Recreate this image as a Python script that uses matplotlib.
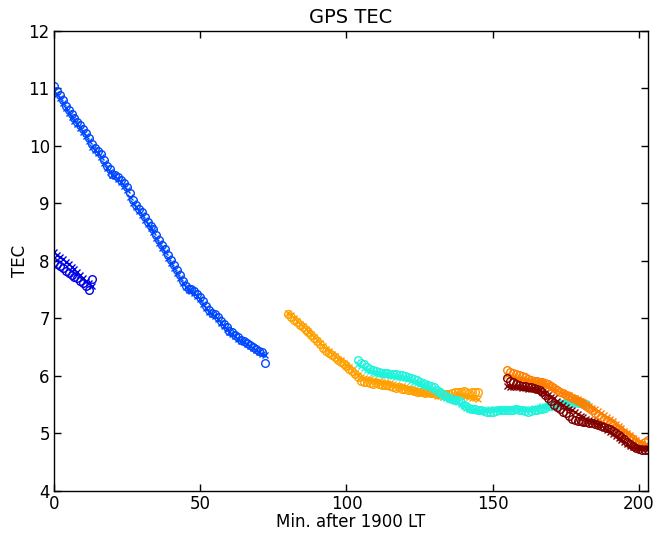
import numpy as np
import matplotlib
matplotlib.use("Agg")
import matplotlib.pyplot as plt

# ---- data (minutes after 1900 LT, TEC) ----
s1_x_o = list(range(0, 14))
s1_y_o = [7.98, 7.95, 7.92, 7.88, 7.82, 7.79, 7.76, 7.72, 7.70, 7.66, 7.61, 7.56, 7.49, 7.68]
s1_x_x = list(range(0, 14))
s1_y_x = [8.15, 8.11, 8.07, 8.03, 7.99, 7.95, 7.90, 7.86, 7.81, 7.76, 7.71, 7.66, 7.61, 7.56]

s2_x_o = list(range(0, 73))
s2_y_o = [11.04, 10.95, 10.88, 10.80, 10.70, 10.63, 10.56, 10.48, 10.42, 10.36,
          10.30, 10.22, 10.13, 10.04, 9.96, 9.91, 9.86, 9.76, 9.65, 9.60,
          9.52, 9.50, 9.46, 9.41, 9.36, 9.29, 9.18, 9.06, 8.97, 8.91,
          8.85, 8.76, 8.68, 8.60, 8.55, 8.46, 8.36, 8.28, 8.20, 8.10,
          8.02, 7.93, 7.85, 7.75, 7.66, 7.57, 7.52, 7.51, 7.48, 7.42,
          7.37, 7.30, 7.22, 7.15, 7.10, 7.08, 7.03, 6.96, 6.90, 6.85,
          6.79, 6.76, 6.72, 6.67, 6.63, 6.61, 6.58, 6.54, 6.51, 6.47,
          6.44, 6.41, 6.22]
s2_x_x = list(range(0, 73))
s2_y_x = [10.96, 10.90, 10.83, 10.75, 10.66, 10.58, 10.51, 10.44, 10.38, 10.32,
          10.25, 10.17, 10.08, 9.99, 9.93, 9.88, 9.80, 9.70, 9.62, 9.55,
          9.50, 9.47, 9.42, 9.37, 9.31, 9.23, 9.12, 9.01, 8.93, 8.87,
          8.80, 8.72, 8.64, 8.57, 8.50, 8.40, 8.31, 8.23, 8.15, 8.06,
          7.97, 7.88, 7.79, 7.70, 7.61, 7.54, 7.50, 7.48, 7.44, 7.39,
          7.33, 7.26, 7.18, 7.12, 7.08, 7.05, 6.99, 6.92, 6.87, 6.81,
          6.77, 6.73, 6.69, 6.65, 6.61, 6.59, 6.55, 6.52, 6.48, 6.45,
          6.42, 6.39, 6.37]

s3_x_o = list(range(80, 146))
s3_y_o = [7.08, 7.03, 6.98, 6.93, 6.88, 6.85, 6.80, 6.76, 6.71, 6.66,
          6.60, 6.55, 6.49, 6.44, 6.40, 6.36, 6.33, 6.28, 6.24, 6.20,
          6.17, 6.12, 6.08, 6.03, 5.98, 5.92, 5.89, 5.90, 5.88, 5.86,
          5.88, 5.86, 5.85, 5.84, 5.85, 5.82, 5.80, 5.79, 5.80, 5.78,
          5.77, 5.76, 5.76, 5.74, 5.73, 5.72, 5.73, 5.71, 5.72, 5.70,
          5.70, 5.69, 5.70, 5.68, 5.69, 5.68, 5.70, 5.72, 5.73, 5.72,
          5.74, 5.72, 5.71, 5.73, 5.72, 5.72]
s3_x_x = list(range(80, 146))
s3_y_x = [7.10, 7.06, 7.01, 6.96, 6.91, 6.87, 6.82, 6.78, 6.73, 6.68,
          6.63, 6.57, 6.52, 6.47, 6.43, 6.38, 6.35, 6.30, 6.27, 6.23,
          6.19, 6.15, 6.10, 6.06, 6.02, 5.98, 5.96, 5.95, 5.94, 5.93,
          5.92, 5.91, 5.90, 5.89, 5.88, 5.87, 5.86, 5.84, 5.83, 5.82,
          5.80, 5.79, 5.77, 5.76, 5.74, 5.73, 5.72, 5.71, 5.70, 5.69,
          5.68, 5.66, 5.65, 5.64, 5.63, 5.62, 5.64, 5.66, 5.68, 5.67,
          5.66, 5.65, 5.63, 5.62, 5.61, 5.60]

s4_x_o = list(range(104, 183))
s4_y_o = [6.27, 6.23, 6.20, 6.16, 6.12, 6.10, 6.08, 6.07, 6.06, 6.05,
          6.05, 6.04, 6.04, 6.03, 6.02, 6.01, 6.00, 5.98, 5.97, 5.95,
          5.93, 5.90, 5.88, 5.86, 5.85, 5.83, 5.80, 5.76, 5.72, 5.68,
          5.65, 5.62, 5.60, 5.59, 5.58, 5.55, 5.50, 5.47, 5.45, 5.43,
          5.42, 5.41, 5.40, 5.39, 5.38, 5.38, 5.38, 5.39, 5.40, 5.40,
          5.40, 5.40, 5.40, 5.41, 5.42, 5.41, 5.40, 5.39, 5.38, 5.39,
          5.40, 5.41, 5.42, 5.43, 5.45, 5.47, 5.48, 5.49, 5.50, 5.51,
          5.52, 5.53, 5.53, 5.53, 5.54, 5.53, 5.53, 5.52, 5.52]
s4_x_x = list(range(104, 183))
s4_y_x = [6.20, 6.17, 6.14, 6.11, 6.08, 6.06, 6.05, 6.04, 6.03, 6.02,
          6.02, 6.01, 6.00, 5.99, 5.98, 5.97, 5.96, 5.94, 5.92, 5.90,
          5.88, 5.86, 5.84, 5.82, 5.80, 5.78, 5.75, 5.72, 5.68, 5.64,
          5.62, 5.60, 5.58, 5.56, 5.54, 5.51, 5.47, 5.44, 5.42, 5.41,
          5.40, 5.39, 5.39, 5.40, 5.41, 5.42, 5.42, 5.43, 5.43, 5.42,
          5.43, 5.43, 5.42, 5.43, 5.44, 5.43, 5.43, 5.42, 5.42, 5.43,
          5.44, 5.45, 5.46, 5.47, 5.48, 5.49, 5.50, 5.51, 5.52, 5.53,
          5.54, 5.55, 5.55, 5.55, 5.54, 5.54, 5.53, 5.52, 5.51]

s5_x_o = list(range(155, 204))
s5_y_o = [6.10, 6.07, 6.06, 6.04, 6.02, 6.00, 5.98, 5.95, 5.93, 5.92,
          5.91, 5.90, 5.89, 5.88, 5.86, 5.82, 5.79, 5.76, 5.73, 5.70,
          5.67, 5.65, 5.62, 5.60, 5.57, 5.55, 5.51, 5.48, 5.44, 5.40,
          5.36, 5.32, 5.29, 5.26, 5.23, 5.20, 5.16, 5.12, 5.08, 5.05,
          5.01, 4.98, 4.94, 4.90, 4.86, 4.82, 4.80, 4.85, 4.88]
s5_x_x = list(range(155, 204))
s5_y_x = [6.02, 6.00, 5.98, 5.96, 5.95, 5.94, 5.93, 5.92, 5.91, 5.90,
          5.89, 5.88, 5.87, 5.85, 5.82, 5.79, 5.77, 5.75, 5.73, 5.71,
          5.69, 5.67, 5.64, 5.62, 5.60, 5.57, 5.54, 5.51, 5.48, 5.45,
          5.42, 5.39, 5.35, 5.32, 5.28, 5.25, 5.21, 5.17, 5.13, 5.09,
          5.05, 5.01, 4.97, 4.93, 4.89, 4.85, 4.82, 4.80, 4.78]

s6_x_o = list(range(155, 204))
s6_y_o = [5.96, 5.92, 5.89, 5.86, 5.84, 5.83, 5.82, 5.81, 5.80, 5.79,
          5.78, 5.76, 5.72, 5.67, 5.62, 5.56, 5.50, 5.46, 5.42, 5.38,
          5.35, 5.30, 5.25, 5.23, 5.22, 5.21, 5.20, 5.20, 5.19, 5.18,
          5.17, 5.15, 5.13, 5.11, 5.10, 5.08, 5.05, 5.01, 4.97, 4.94,
          4.90, 4.86, 4.82, 4.79, 4.75, 4.73, 4.72, 4.71, 4.72]
s6_x_x = list(range(155, 204))
s6_y_x = [5.82, 5.81, 5.80, 5.80, 5.80, 5.79, 5.79, 5.78, 5.78, 5.77,
          5.76, 5.75, 5.73, 5.70, 5.67, 5.64, 5.61, 5.57, 5.53, 5.50,
          5.46, 5.43, 5.40, 5.37, 5.34, 5.31, 5.29, 5.26, 5.24, 5.22,
          5.20, 5.17, 5.14, 5.10, 5.06, 5.02, 4.99, 4.95, 4.92, 4.88,
          4.85, 4.82, 4.79, 4.77, 4.75, 4.75, 4.74, 4.74, 4.75]

colors = ["#0000e6", "#0048ff", "#ffa000", "#20f2dc", "#ff8000", "#800000"]
series = [
    (s1_x_o, s1_y_o, s1_x_x, s1_y_x),
    (s2_x_o, s2_y_o, s2_x_x, s2_y_x),
    (s3_x_o, s3_y_o, s3_x_x, s3_y_x),
    (s4_x_o, s4_y_o, s4_x_x, s4_y_x),
    (s5_x_o, s5_y_o, s5_x_x, s5_y_x),
    (s6_x_o, s6_y_o, s6_x_x, s6_y_x),
]

title = "GPS TEC"
xlabel = "Min. after 1900 LT"
ylabel = "TEC"
xticks = [0, 50, 100, 150, 200]
yticks = [4, 5, 6, 7, 8, 9, 10, 11, 12]

fig = plt.figure(figsize=(6.55, 5.33), dpi=100)
fig.patch.set_facecolor("white")
ax = fig.add_axes([0.0824, 0.0788, 0.9066, 0.8632])

for c, (xo, yo, xx, yx) in zip(colors, series):
    ax.plot(xx, yx, linestyle="none", marker="x", markersize=5,
            markeredgewidth=1.0, color=c)
    ax.plot(xo, yo, linestyle="none", marker="o", markersize=5.5,
            markerfacecolor="none", markeredgewidth=1.0, markeredgecolor=c)

ax.set_xlim(0, 203)
ax.set_ylim(4, 12)
ax.set_xticks(xticks)
ax.set_yticks(yticks)
ax.tick_params(direction="in", top=True, right=True, length=5, width=1,
               labelsize=12, pad=3)
for sp in ax.spines.values():
    sp.set_linewidth(1.0)
ax.set_title(title, fontsize=14, pad=6)
ax.set_xlabel(xlabel, fontsize=12, labelpad=0)
ax.set_ylabel(ylabel, fontsize=12, labelpad=0)

fig.savefig("out.png", dpi=100, facecolor="white")
